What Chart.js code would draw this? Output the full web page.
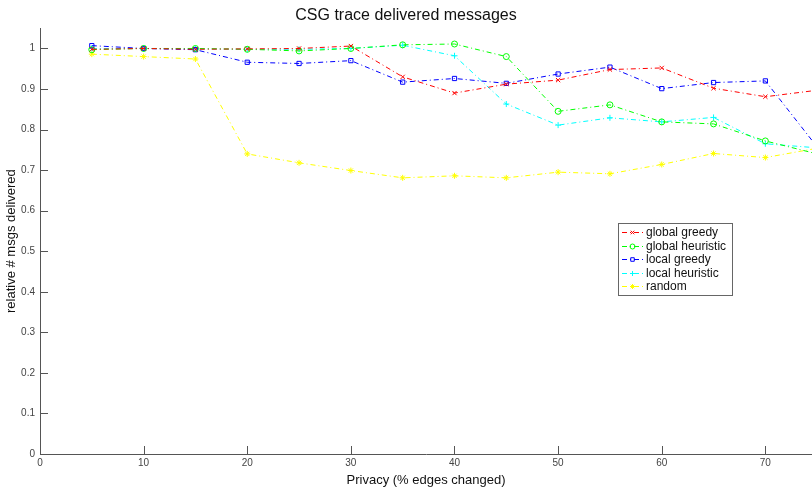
<!DOCTYPE html>
<html>
<head>
<meta charset="utf-8">
<script src="https://cdn.jsdelivr.net/npm/chart.js@4/dist/chart.umd.min.js"></script>
<style>
  html, body { margin: 0; padding: 0; background: #fff; }
  #wrap { width: 812px; height: 487px; }
</style>
</head>
<body>
<div id="wrap"><canvas id="grafica" width="812" height="487"></canvas></div>
<script>
// DATOS
const privacidad = [5, 10, 15, 20, 25, 30, 35, 40, 45, 50, 55, 60, 65, 70, 75];
const globalGreedy = [0.998, 1.0, 0.998, 0.999, 1.0, 1.006, 0.930, 0.890, 0.912, 0.922, 0.948, 0.952, 0.902, 0.881, 0.897];
const globalHeuristic = [0.997, 1.0, 1.0, 0.998, 0.994, 1.0, 1.009, 1.011, 0.980, 0.845, 0.861, 0.819, 0.814, 0.772, 0.740];
const localGreedy = [1.007, 1.0, 0.997, 0.966, 0.963, 0.970, 0.917, 0.926, 0.914, 0.937, 0.954, 0.901, 0.916, 0.920, 0.757];
const localHeuristic = [1.0, 1.0, 0.999, 0.998, 0.998, 1.0, 1.008, 0.982, 0.863, 0.811, 0.829, 0.819, 0.830, 0.765, 0.755];
const randomSel = [0.986, 0.980, 0.974, 0.740, 0.718, 0.699, 0.681, 0.686, 0.681, 0.695, 0.691, 0.714, 0.741, 0.731, 0.754];
const xTicks = [0, 10, 20, 30, 40, 50, 60, 70];
const yTicks = [0, 0.1, 0.2, 0.3, 0.4, 0.5, 0.6, 0.7, 0.8, 0.9, 1];

const FUENTE = "'Liberation Sans', Arial, Helvetica, sans-serif";
const GRIS = '#555';

function serie(label, valores, color, estilo) {
    return {
        label: label,
        data: privacidad.map((x, i) => ({ x: x, y: valores[i] })),
        borderColor: color,
        backgroundColor: 'rgba(0,0,0,0)',
        borderWidth: 1,
        borderDash: [5, 3, 1, 3],
        pointStyle: estilo,
        pointRadius: 3,
        pointBorderWidth: 1,
        pointBorderColor: color,
        pointBackgroundColor: 'rgba(0,0,0,0)',
        tension: 0
    };
}

// ticks hacia adentro como en matlab
const ticksAdentro = {
    id: 'ticksAdentro',
    afterDatasetsDraw(chart) {
        const ctx = chart.ctx;
        const sx = chart.scales.x, sy = chart.scales.y;
        ctx.save();
        ctx.strokeStyle = GRIS;
        ctx.lineWidth = 1;
        ctx.beginPath();
        xTicks.forEach(v => {
            const px = Math.round(sx.getPixelForValue(v)) + 0.5;
            ctx.moveTo(px, sy.bottom);
            ctx.lineTo(px, sy.bottom - 8);
        });
        yTicks.forEach(v => {
            const py = Math.round(sy.getPixelForValue(v)) + 0.5;
            ctx.moveTo(sx.left, py);
            ctx.lineTo(sx.left + 8, py);
        });
        ctx.stroke();
        ctx.restore();
    }
};

// leyenda dentro del area del grafico
const leyenda = {
    id: 'leyendaInterna',
    afterDraw(chart) {
        const ctx = chart.ctx;
        const x0 = 618, y0 = 223, w = 114, h = 72;
        ctx.save();
        ctx.fillStyle = '#fff';
        ctx.fillRect(x0, y0, w, h);
        ctx.strokeStyle = '#666';
        ctx.lineWidth = 1;
        ctx.strokeRect(x0 + 0.5, y0 + 0.5, w, h);
        ctx.font = '12px ' + FUENTE;
        ctx.textBaseline = 'middle';
        chart.data.datasets.forEach((d, i) => {
            const yy = Math.round(y0 + 9 + i * 13.6) + 0.5;
            ctx.strokeStyle = d.borderColor;
            ctx.lineWidth = 1;
            ctx.setLineDash(d.borderDash);
            ctx.beginPath();
            ctx.moveTo(x0 + 4, yy);
            ctx.lineTo(x0 + 25, yy);
            ctx.stroke();
            ctx.setLineDash([]);
            if (Chart.helpers && Chart.helpers.drawPoint) {
                ctx.fillStyle = 'rgba(0,0,0,0)';
                ctx.strokeStyle = d.borderColor;
                Chart.helpers.drawPoint(ctx, { pointStyle: d.pointStyle, radius: 2.5, borderWidth: 1 }, x0 + 14.5, yy);
            }
            ctx.fillStyle = '#111';
            ctx.fillText(d.label, x0 + 28, yy);
        });
        ctx.restore();
    }
};

const ctx = document.getElementById('grafica').getContext('2d');
const miGrafica = new Chart(ctx, {
    type: 'line',
    data: {
        datasets: [
            serie('global greedy', globalGreedy, '#ff0000', 'crossRot'),
            serie('global heuristic', globalHeuristic, '#00ff00', 'circle'),
            serie('local greedy', localGreedy, '#0000ff', 'rect'),
            serie('local heuristic', localHeuristic, '#00ffff', 'cross'),
            serie('random', randomSel, '#ffff00', 'star')
        ]
    },
    options: {
        responsive: false,
        animation: false,
        layout: { padding: 0, autoPadding: false },
        plugins: {
            legend: { display: false },
            tooltip: { enabled: false },
            title: {
                display: true,
                text: 'CSG trace delivered messages',
                color: '#111',
                font: { family: FUENTE, size: 16, weight: 'normal' },
                padding: { top: 6, bottom: 3 }
            }
        },
        scales: {
            x: {
                type: 'linear',
                min: 0,
                max: 74.5,
                afterFit: s => { s.height = 33; s.paddingLeft = 0; s.paddingRight = 0; },
                ticks: {
                    stepSize: 10,
                    includeBounds: false,
                    autoSkip: false,
                    maxRotation: 0,
                    padding: 3,
                    color: '#444',
                    font: { family: FUENTE, size: 10 }
                },
                grid: { display: true, drawOnChartArea: false, drawTicks: false },
                border: { color: GRIS, width: 1 },
                title: {
                    display: true,
                    text: 'Privacy (% edges changed)',
                    color: '#111',
                    font: { family: FUENTE, size: 13 },
                    padding: { top: 0, bottom: -1 }
                }
            },
            y: {
                min: 0,
                max: 1.05,
                afterFit: s => { s.width = 40; },
                ticks: {
                    stepSize: 0.1,
                    includeBounds: false,
                    padding: 5,
                    color: '#444',
                    font: { family: FUENTE, size: 10 },
                    callback: v => String(Math.round(v * 10) / 10)
                },
                grid: { display: true, drawOnChartArea: false, drawTicks: false },
                border: { color: GRIS, width: 1 },
                title: {
                    display: true,
                    text: 'relative # msgs delivered',
                    color: '#111',
                    font: { family: FUENTE, size: 13 },
                    padding: { top: 4, bottom: 0 }
                }
            }
        }
    },
    plugins: [ticksAdentro, leyenda]
});
</script>
</body>
</html>
